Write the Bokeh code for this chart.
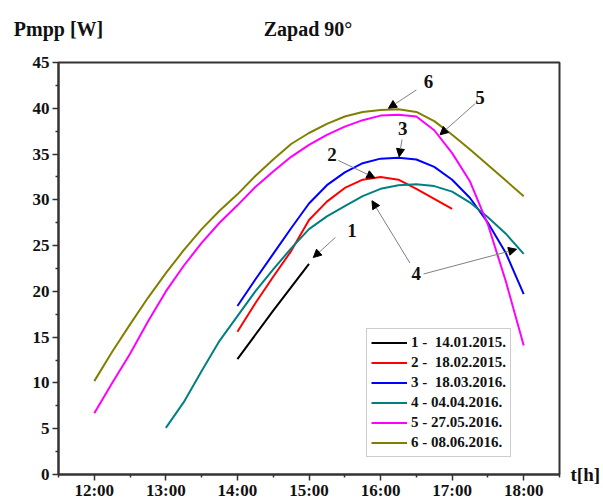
from bokeh.plotting import figure
from bokeh.models import (FixedTicker, Arrow, NormalHead, Legend, LegendItem,
                          Range1d, ColumnDataSource, LabelSet, LinearAxis)
from bokeh.embed import file_html
from bokeh.resources import INLINE

# ---------------- data ----------------
t1 = [14.0, 14.5, 15.0]
p1 = [12.6, 17.9, 23.0]

t2 = [14.0, 14.25, 14.5, 14.75, 15.0, 15.25, 15.5, 15.75, 16.0, 16.25, 16.5, 16.75, 17.0]
p2 = [15.6, 18.7, 21.6, 24.4, 27.8, 29.8, 31.3, 32.2, 32.5, 32.2, 31.2, 30.1, 29.0]

t3 = [14.0, 14.25, 14.5, 14.75, 15.0, 15.25, 15.5, 15.75, 16.0, 16.25, 16.5, 16.75, 17.0, 17.25, 17.5, 17.75, 18.0]
p3 = [18.4, 21.3, 24.1, 26.9, 29.6, 31.6, 33.0, 34.0, 34.5, 34.6, 34.4, 33.6, 32.2, 30.2, 27.5, 24.2, 19.7]

t4 = [13.0, 13.25, 13.5, 13.75, 14.0, 14.25, 14.5, 14.75, 15.0, 15.25, 15.5, 15.75, 16.0, 16.25, 16.5, 16.75, 17.0, 17.25, 17.5, 17.75, 18.0]
p4 = [5.1, 7.9, 11.3, 14.6, 17.3, 20.0, 22.4, 24.7, 26.8, 28.2, 29.3, 30.4, 31.2, 31.6, 31.7, 31.5, 30.9, 29.7, 28.1, 26.3, 24.1]

t5 = [12.0, 12.25, 12.5, 12.75, 13.0, 13.25, 13.5, 13.75, 14.0, 14.25, 14.5, 14.75, 15.0, 15.25, 15.5, 15.75, 16.0, 16.25, 16.5, 16.75, 17.0, 17.25, 17.5, 17.75, 18.0]
p5 = [6.7, 10.0, 13.2, 16.7, 20.0, 22.8, 25.3, 27.5, 29.4, 31.4, 33.1, 34.7, 36.0, 37.1, 38.0, 38.7, 39.2, 39.3, 39.1, 37.6, 35.1, 32.0, 27.3, 21.1, 14.1]

t6 = [12.0, 12.25, 12.5, 12.75, 13.0, 13.25, 13.5, 13.75, 14.0, 14.25, 14.5, 14.75, 15.0, 15.25, 15.5, 15.75, 16.0, 16.25, 16.5, 16.75, 17.0, 17.25, 17.5, 17.75, 18.0]
p6 = [10.2, 13.4, 16.4, 19.3, 22.0, 24.5, 26.8, 28.8, 30.6, 32.6, 34.4, 36.1, 37.3, 38.3, 39.1, 39.6, 39.8, 39.9, 39.6, 38.6, 37.1, 35.5, 33.8, 32.1, 30.4]

legend_labels = ["1 -  14.01.2015.", "2 -  18.02.2015.", "3 -  18.03.2016.",
                 "4 - 04.04.2016.", "5 - 27.05.2016.", "6 - 08.06.2016."]
colors = ["#000000", "#ff0000", "#0000ff", "#008080", "#ff00ff", "#808000"]

x_ticks = [12, 13, 14, 15, 16, 17, 18]
x_tick_labels = ["12:00", "13:00", "14:00", "15:00", "16:00", "17:00", "18:00"]
x_minor = [11.5, 12.5, 13.5, 14.5, 15.5, 16.5, 17.5, 18.5]
y_ticks = [0, 5, 10, 15, 20, 25, 30, 35, 40, 45]
y_minor = [2.5, 7.5, 12.5, 17.5, 22.5, 27.5, 32.5, 37.5, 42.5]

y_title = "Pmpp [W]"
chart_title = "Zapad 90°"
x_title = "t[h]"

# curve annotations
ann_text = ["1", "2", "3", "4", "5", "6"]
ann_x = [15.60, 15.32, 16.31, 16.50, 17.39, 16.67]
ann_y = [26.6, 35.0, 37.8, 21.9, 41.2, 42.9]
arr_x0 = [15.37, 15.41, 16.30, 16.41, 16.60, 17.32, 16.50]
arr_y0 = [25.9, 34.3, 36.6, 23.1, 21.9, 40.5, 42.0]
arr_x1 = [15.06, 15.92, 16.26, 15.88, 17.90, 16.83, 16.11]
arr_y1 = [23.7, 32.4, 34.7, 29.9, 24.6, 37.1, 40.0]

FONT = "Liberation Serif"

# ---------------- figure ----------------
W, H = 603, 502
FL, FT, FR, FB = 58, 62, 560, 474  # frame box in canvas pixels
p = figure(width=W, height=H, output_backend="svg", toolbar_location=None,
           x_range=Range1d(11.5, 18.5), y_range=Range1d(0, 45),
           min_border_left=FL, min_border_right=W - FR, min_border_top=FT,
           min_border_bottom=H - FB)
p.grid.visible = False
p.outline_line_color = "#333333"
p.outline_line_width = 2

for ax in (p.xaxis[0], p.yaxis[0]):
    ax.axis_line_color = "#333333"
    ax.axis_line_width = 2
    ax.major_tick_line_color = "#333333"
    ax.minor_tick_line_color = "#333333"
    ax.major_tick_line_width = 1.5
    ax.minor_tick_line_width = 1.5
    ax.major_tick_in = 0
    ax.major_tick_out = 6
    ax.minor_tick_in = 0
    ax.minor_tick_out = 3
    ax.major_label_text_font = FONT
    ax.major_label_text_font_style = "bold"
    ax.major_label_text_font_size = "17px"
    ax.major_label_text_color = "#111111"

p.xaxis[0].ticker = FixedTicker(ticks=x_ticks, minor_ticks=x_minor)
p.xaxis[0].major_label_overrides = {k: v for k, v in zip(x_ticks, x_tick_labels)}
p.xaxis[0].major_label_standoff = 0
p.yaxis[0].ticker = FixedTicker(ticks=y_ticks, minor_ticks=y_minor)
p.yaxis[0].major_label_standoff = 3

# texts outside the frame, drawn as labels of tick-less helper axes (pixel ranges)
p.extra_x_ranges = {"px": Range1d(FL, FR)}
p.extra_y_ranges = {"py": Range1d(0, FB - FT)}

top_ax = LinearAxis(x_range_name="px",
                    ticker=FixedTicker(ticks=[FL, 308], minor_ticks=[]),
                    major_label_overrides={FL: y_title, 308: chart_title},
                    axis_line_color=None, major_tick_line_color=None,
                    minor_tick_line_color=None, major_tick_out=0, major_tick_in=0,
                    major_label_standoff=23, major_label_text_font=FONT,
                    major_label_text_font_style="bold", major_label_text_font_size="20px",
                    major_label_text_color="#111111")
p.add_layout(top_ax, "above")

right_ax = LinearAxis(y_range_name="py",
                      ticker=FixedTicker(ticks=[0], minor_ticks=[]),
                      major_label_overrides={0: x_title},
                      major_label_orientation="horizontal",
                      axis_line_color=None, major_tick_line_color=None,
                      minor_tick_line_color=None, major_tick_out=0, major_tick_in=0,
                      major_label_standoff=11, major_label_text_font=FONT,
                      major_label_text_font_style="bold", major_label_text_font_size="19px",
                      major_label_text_baseline="top",
                      major_label_text_color="#111111")
p.add_layout(right_ax, "right")

series = [(t1, p1), (t2, p2), (t3, p3), (t4, p4), (t5, p5), (t6, p6)]
items = []
for (tx, py), c, lab in zip(series, colors, legend_labels):
    r = p.line(tx, py, line_color=c, line_width=2)
    items.append(LegendItem(label=lab, renderers=[r]))

legend = Legend(items=items, location=(308, 17), orientation="vertical",
                label_text_font=FONT, label_text_font_style="bold",
                label_text_font_size="15px", label_text_color="#111111",
                glyph_width=36, glyph_height=19, label_height=19, label_standoff=4,
                spacing=1, padding=4, margin=0,
                border_line_color="#999999", border_line_width=1.5,
                background_fill_alpha=1.0)
p.add_layout(legend, "center")

# arrows
asrc = ColumnDataSource(dict(x0=arr_x0, y0=arr_y0, x1=arr_x1, y1=arr_y1))
p.add_layout(Arrow(source=asrc, x_start="x0", y_start="y0", x_end="x1", y_end="y1",
                   line_color="#808080", line_width=1,
                   end=NormalHead(size=8, fill_color="black", line_color="black")))

lsrc = ColumnDataSource(dict(x=ann_x, y=ann_y, t=ann_text))
p.add_layout(LabelSet(source=lsrc, x="x", y="y", text="t", text_font=FONT,
                      text_font_style="bold", text_font_size="19px", text_color="#111111",
                      text_align="center", text_baseline="middle"))

open("out.html", "w").write(file_html(p, INLINE))
